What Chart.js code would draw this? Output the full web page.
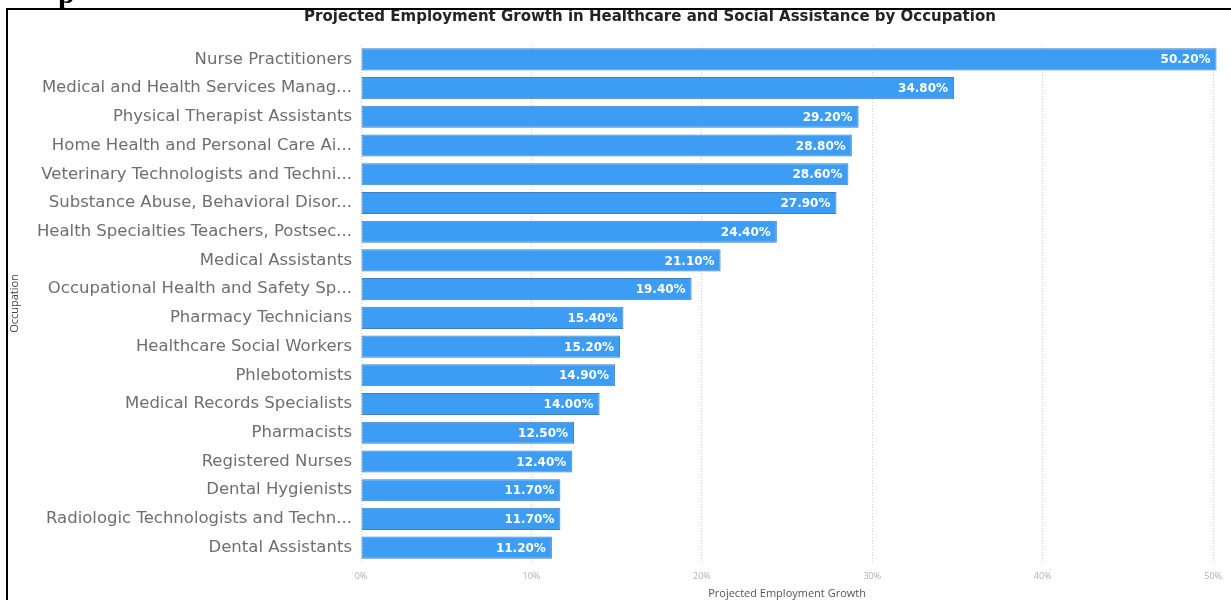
<!DOCTYPE html>
<html>
<head>
<meta charset="utf-8">
<script src="https://cdn.jsdelivr.net/npm/chart.js@4"></script>
<style>
  html, body { margin: 0; padding: 0; background: #fff; overflow: hidden; }
  #wrap { position: relative; width: 1231px; height: 600px; overflow: hidden; }
  #chart-box { position: absolute; left: 0; top: 0; width: 1231px; height: 600px; }
  #frame { position: absolute; left: 6px; top: 8px; width: 1240px; height: 600px;
    border-left: 2px solid #000; border-top: 2px solid #000; pointer-events: none; }
  #cut { position: absolute; left: 58px; top: -24px; font: bold 30px "Liberation Serif", serif; color: #000; }
  #title { position: absolute; left: 0; top: 7px; width: 1300px; text-align: center;
    font: bold 15px "DejaVu Sans", sans-serif; color: #252423; }
</style>
</head>
<body>
<div id="wrap">
  <div id="chart-box"><canvas id="myChart"></canvas></div>
  <div id="title">Projected Employment Growth in Healthcare and Social Assistance by Occupation</div>
  <div id="frame"></div>
  <div id="cut">p</div>
</div>
<script>
// data
let occupations = [
  "Nurse Practitioners",
  "Medical and Health Services Manag...",
  "Physical Therapist Assistants",
  "Home Health and Personal Care Ai...",
  "Veterinary Technologists and Techni...",
  "Substance Abuse, Behavioral Disor...",
  "Health Specialties Teachers, Postsec...",
  "Medical Assistants",
  "Occupational Health and Safety Sp...",
  "Pharmacy Technicians",
  "Healthcare Social Workers",
  "Phlebotomists",
  "Medical Records Specialists",
  "Pharmacists",
  "Registered Nurses",
  "Dental Hygienists",
  "Radiologic Technologists and Techn...",
  "Dental Assistants"
];
let growth = [50.2, 34.8, 29.2, 28.8, 28.6, 27.9, 24.4, 21.1, 19.4, 15.4, 15.2, 14.9, 14.0, 12.5, 12.4, 11.7, 11.7, 11.2];
let xTicks = [0, 10, 20, 30, 40, 50];

// value labels drawn inside the end of each bar
const barLabels = {
  id: 'barLabels',
  afterDatasetsDraw(chart) {
    const ctx = chart.ctx;
    const meta = chart.getDatasetMeta(0);
    ctx.save();
    ctx.fillStyle = '#ffffff';
    ctx.font = 'bold 12px "DejaVu Sans"';
    ctx.textAlign = 'right';
    ctx.textBaseline = 'middle';
    meta.data.forEach((bar, i) => {
      ctx.fillText(growth[i].toFixed(2) + '%', bar.x - 6, bar.y + 1);
    });
    ctx.restore();
  }
};

new Chart("myChart", {
  type: "bar",
  data: {
    labels: occupations,
    datasets: [{
      data: growth,
      backgroundColor: "#3d9cf4",
      borderColor: "#3f7fbf",
      borderWidth: 1,
      borderSkipped: false,
      barPercentage: 0.77,
      categoryPercentage: 1,
      clip: false
    }]
  },
  options: {
    indexAxis: 'y',
    responsive: true,
    maintainAspectRatio: false,
    animation: false,
    layout: { padding: { left: 0, right: 10, top: 45, bottom: 0 } },
    plugins: {
      legend: { display: false },
      tooltip: { enabled: false }
    },
    scales: {
      x: {
        min: 0,
        max: 50,
        afterBuildTicks(scale) {
          scale.ticks = xTicks.map(v => ({ value: v }));
        },
        afterFit(scale) { scale.height = 38; },
        ticks: {
          color: "#b0b0b0",
          font: { family: "Open Sans", size: 9 },
          padding: 9,
          callback: v => v + "%"
        },
        grid: { color: "#cfcfcf", drawTicks: false },
        border: { display: false, dash: [1, 2] },
        title: {
          display: true,
          text: "Projected Employment Growth",
          color: "#555",
          font: { family: "Open Sans", size: 11 },
          padding: { top: 0, bottom: 0 }
        }
      },
      y: {
        afterFit(scale) { scale.width = 361; },
        ticks: {
          color: "#6e6e6e",
          font: { family: "DejaVu Sans", size: 16.5 },
          padding: 9,
          autoSkip: false
        },
        grid: { display: false, drawTicks: false },
        border: { display: false },
        title: {
          display: true,
          text: "Occupation",
          color: "#444",
          font: { family: "Open Sans", size: 11 },
          padding: { top: 8, bottom: 0 }
        }
      }
    }
  },
  plugins: [barLabels]
});
</script>
</body>
</html>
